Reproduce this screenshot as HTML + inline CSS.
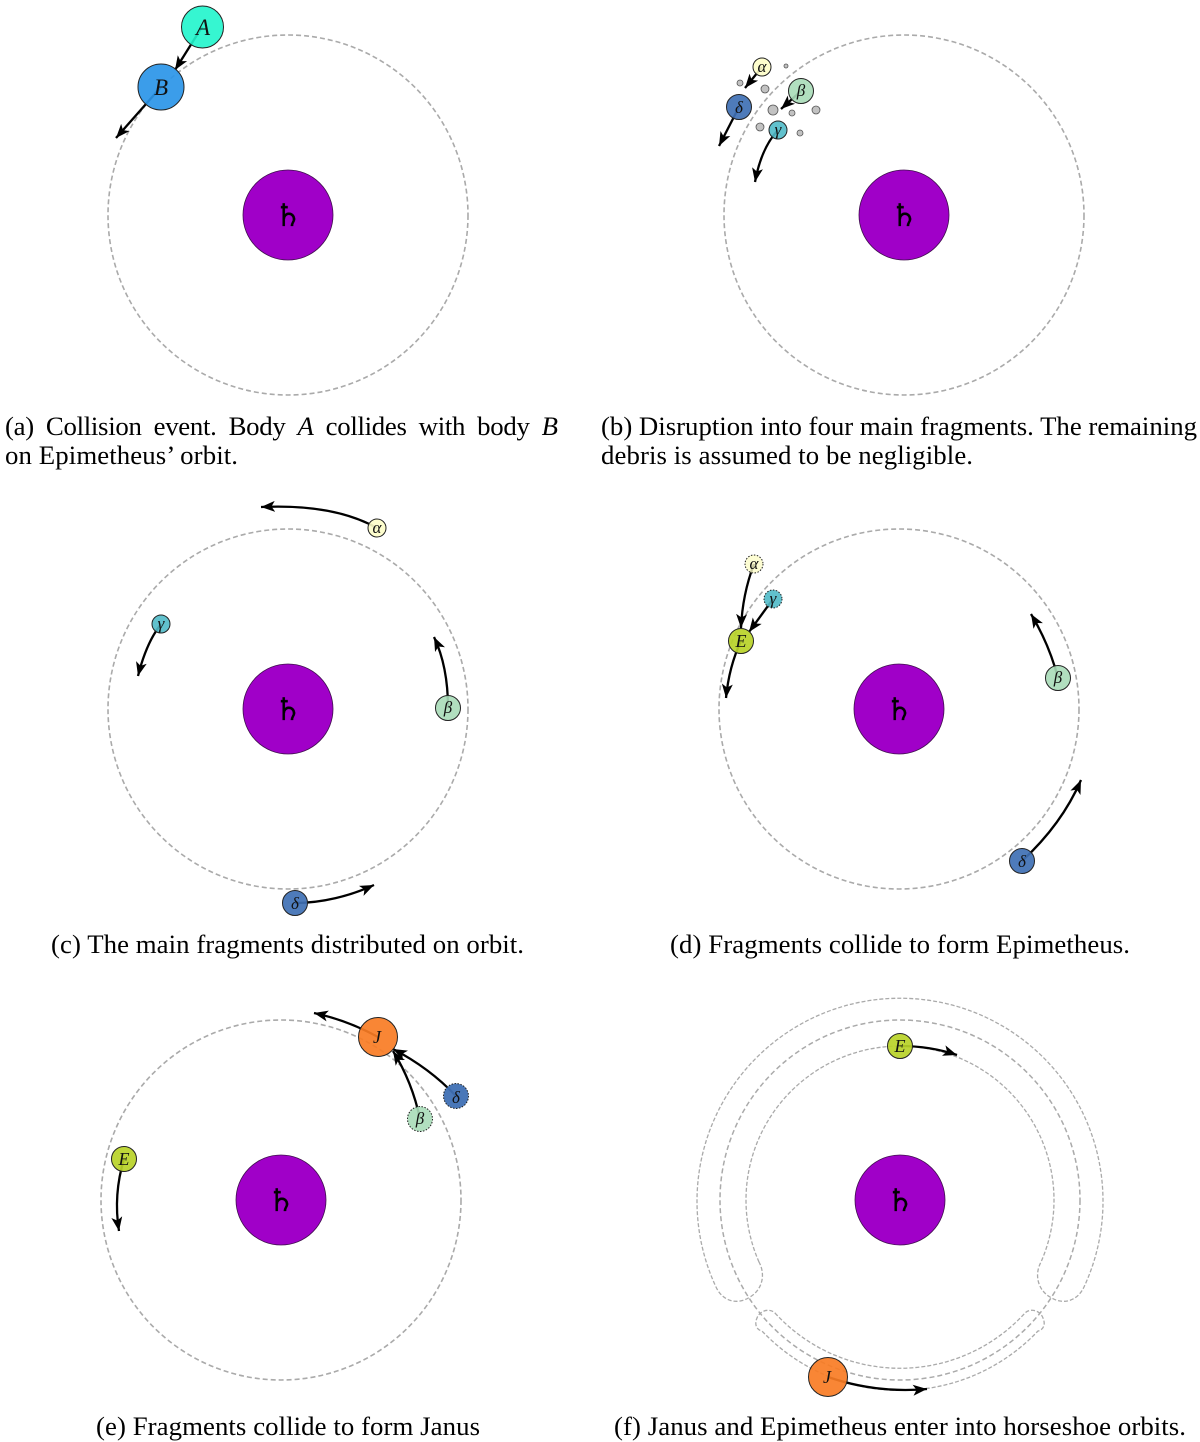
<!DOCTYPE html>
<html>
<head>
<meta charset="utf-8">
<style>
html,body{margin:0;padding:0;background:#fff}
svg{display:block}
.orb{fill:none;stroke:#aaa;stroke-width:1.6;stroke-dasharray:5 3}
.thin{fill:none;stroke:#aaa;stroke-width:1.3;stroke-dasharray:4 2}
.sat{fill:#a000c8;stroke:#40104f;stroke-width:.8}
.ar{fill:none;stroke:#000;stroke-width:2.3;marker-end:url(#h)}
.b{stroke:#222;stroke-width:1}
.dot{stroke:#222;stroke-width:1;stroke-dasharray:1.5 1.5}
.d{fill:#c2c2c2;stroke:#555;stroke-width:.8}
.cap{font-family:"Liberation Serif",serif;font-size:26.8px;fill:#000}
.m{font-family:"Liberation Serif",serif;font-style:italic;text-anchor:middle;fill:#111}
.s{font-family:"DejaVu Sans",sans-serif;font-size:31px;text-anchor:middle;fill:#000;stroke:#000;stroke-width:.3}
</style>
</head>
<body>
<svg width="1200" height="1442" viewBox="0 0 1200 1442" xmlns="http://www.w3.org/2000/svg">
<defs>
<marker id="h" markerUnits="userSpaceOnUse" markerWidth="18" markerHeight="14" refX="14" refY="7" orient="auto">
<path d="M0,1.500 L14,7 L0,12.500 L3.500,7 z" fill="#000"/>
</marker>
</defs>

<!-- a -->
<circle class="orb" cx="288" cy="215" r="180"/>
<circle class="sat" cx="288" cy="215" r="45"/>
<text class="s" x="288" y="226">♄</text>
<path class="ar" d="M202,27 L175,70"/>
<path class="ar" d="M161,87 L116,138"/>
<circle class="b" cx="202.500" cy="27" r="21" fill="#20f5cc" fill-opacity=".9"/>
<circle class="b" cx="161" cy="87" r="23" fill="#2a95e8" fill-opacity=".92"/>
<text class="m" x="203" y="35" font-size="23">A</text>
<text class="m" x="161" y="95" font-size="23">B</text>

<!-- b -->
<circle class="orb" cx="904" cy="215" r="180"/>
<circle class="sat" cx="904" cy="215" r="45"/>
<text class="s" x="904" y="226">♄</text>
<circle class="d" cx="740" cy="83" r="3"/>
<circle class="d" cx="786" cy="66" r="2"/>
<circle class="d" cx="765" cy="89" r="4"/>
<circle class="d" cx="773" cy="110" r="5"/>
<circle class="d" cx="792" cy="113" r="3"/>
<circle class="d" cx="816" cy="110" r="4"/>
<circle class="d" cx="760" cy="127" r="4"/>
<circle class="d" cx="800" cy="133" r="3"/>
<path class="ar" d="M762,67 L745,88"/>
<path class="ar" d="M801,91 L781,109"/>
<path class="ar" d="M739,107 L719,146"/>
<path class="ar" d="M778,130 C766,143 759,160 755,182"/>
<circle class="b" cx="762" cy="67" r="9" fill="#fdfdc8" fill-opacity=".9"/>
<circle class="b" cx="801" cy="91" r="12.500" fill="#a8dcb8" fill-opacity=".9"/>
<circle class="b" cx="739" cy="107" r="12.500" fill="#3f70b4" fill-opacity=".92"/>
<circle class="b" cx="778" cy="130" r="9" fill="#50bac8" fill-opacity=".9"/>
<text class="m" x="762" y="72" font-size="17">α</text>
<text class="m" x="801" y="96" font-size="17">β</text>
<text class="m" x="739" y="113" font-size="17">δ</text>
<text class="m" x="778" y="135" font-size="17">γ</text>

<!-- c -->
<circle class="orb" cx="288" cy="709" r="180"/>
<circle class="sat" cx="288" cy="709" r="45"/>
<text class="s" x="288" y="720">♄</text>
<path class="ar" d="M377,528 C345,510 305,505 261,507"/>
<path class="ar" d="M161,624 C150,638 143,656 138,676"/>
<path class="ar" d="M448,708 C448,684 444,658 434,637"/>
<path class="ar" d="M295,903 C322,903 350,896 374,885"/>
<circle class="b" cx="377" cy="528" r="9" fill="#fdfdc8" fill-opacity=".9"/>
<circle class="b" cx="161" cy="624" r="9" fill="#50bac8" fill-opacity=".9"/>
<circle class="b" cx="448" cy="708" r="12.500" fill="#a8dcb8" fill-opacity=".9"/>
<circle class="b" cx="295" cy="903" r="12.500" fill="#3f70b4" fill-opacity=".92"/>
<text class="m" x="377" y="533" font-size="17">α</text>
<text class="m" x="161" y="629" font-size="17">γ</text>
<text class="m" x="448" y="713" font-size="17">β</text>
<text class="m" x="295" y="909" font-size="17">δ</text>

<!-- d -->
<circle class="orb" cx="899" cy="709" r="180"/>
<circle class="sat" cx="899" cy="709" r="45"/>
<text class="s" x="899" y="720">♄</text>
<path class="ar" d="M754,564 C746,585 742,605 741,628"/>
<path class="ar" d="M773,599 L749,632"/>
<path class="ar" d="M741,641 C733,658 728,677 726,698"/>
<path class="ar" d="M1058,678 C1052,655 1043,634 1031,614"/>
<path class="ar" d="M1022,861 C1048,837 1068,810 1081,780"/>
<circle class="dot" cx="754" cy="564" r="9" fill="#fdfdc8" fill-opacity=".8"/>
<circle class="dot" cx="773" cy="599" r="9" fill="#50bac8" fill-opacity=".9"/>
<circle class="b" cx="741" cy="641" r="12.500" fill="#b8d228" fill-opacity=".92"/>
<circle class="b" cx="1058" cy="678" r="12.500" fill="#a8dcb8" fill-opacity=".9"/>
<circle class="b" cx="1022" cy="861" r="12.500" fill="#3f70b4" fill-opacity=".92"/>
<text class="m" x="754" y="569" font-size="17">α</text>
<text class="m" x="773" y="604" font-size="17">γ</text>
<text class="m" x="741" y="647" font-size="18">E</text>
<text class="m" x="1058" y="683" font-size="17">β</text>
<text class="m" x="1022" y="867" font-size="17">δ</text>

<!-- e -->
<circle class="orb" cx="281" cy="1200" r="180"/>
<circle class="sat" cx="281" cy="1200" r="45"/>
<text class="s" x="281" y="1211">♄</text>
<path class="ar" d="M378,1037 C358,1026 337,1018 314,1013"/>
<path class="ar" d="M456,1096 C438,1077 418,1062 393,1049"/>
<path class="ar" d="M420,1119 C415,1095 406,1072 393,1051"/>
<path class="ar" d="M124,1159 C117,1182 115,1206 119,1231"/>
<circle class="b" cx="378" cy="1037" r="19.500" fill="#f97c24" fill-opacity=".92"/>
<circle class="dot" cx="456" cy="1096" r="12.500" fill="#3f70b4" fill-opacity=".95"/>
<circle class="dot" cx="420" cy="1119" r="12.500" fill="#a8dcb8" fill-opacity=".9"/>
<circle class="b" cx="124" cy="1159" r="12.500" fill="#b8d228" fill-opacity=".92"/>
<text class="m" x="377" y="1043" font-size="18">J</text>
<text class="m" x="456" y="1103" font-size="17">δ</text>
<text class="m" x="420" y="1124" font-size="17">β</text>
<text class="m" x="124" y="1165" font-size="18">E</text>

<!-- f -->
<circle class="orb" cx="900" cy="1200" r="180" style="stroke-width:1.5"/>
<path class="thin" d="M759,1262 A154,154 0 1 1 1041,1262 C1034,1275 1038,1290 1050,1297 C1062,1305 1077,1302 1084,1287 A203,203 0 1 0 716,1287 C723,1302 738,1305 750,1297 C762,1290 766,1275 759,1262 Z"/>
<path class="thin" d="M775,1313 A169,169 0 0 0 1025,1313 C1030,1308 1040,1310 1043,1318 C1046,1325 1043,1330 1038,1331 A190,190 0 0 1 762,1331 C757,1330 754,1325 757,1318 C760,1310 770,1308 775,1313 Z"/>
<circle class="sat" cx="900" cy="1200" r="45"/>
<text class="s" x="900" y="1211">♄</text>
<path class="ar" d="M900,1046 C920,1046 939,1049 957,1055"/>
<path class="ar" d="M828,1377 C860,1388 893,1392 927,1389"/>
<circle class="b" cx="900" cy="1046" r="12.500" fill="#b8d228" fill-opacity=".92"/>
<circle class="b" cx="828" cy="1377" r="19.500" fill="#f97c24" fill-opacity=".92"/>
<text class="m" x="900" y="1052" font-size="18">E</text>
<text class="m" x="827" y="1383" font-size="18">J</text>

<!-- captions -->
<text class="cap" x="5" y="435" textLength="553" lengthAdjust="spacing" style="word-spacing:5.6px">(a) Collision event. Body <tspan font-style="italic">A</tspan> collides with body <tspan font-style="italic">B</tspan></text>
<text class="cap" x="5" y="464" textLength="233" lengthAdjust="spacing">on Epimetheus’ orbit.</text>
<text class="cap" x="601" y="435" textLength="596" lengthAdjust="spacing">(b) Disruption into four main fragments. The remaining</text>
<text class="cap" x="601" y="464" textLength="372" lengthAdjust="spacing">debris is assumed to be negligible.</text>
<text class="cap" x="51" y="953" textLength="473" lengthAdjust="spacing">(c) The main fragments distributed on orbit.</text>
<text class="cap" x="670" y="953" textLength="460" lengthAdjust="spacing">(d) Fragments collide to form Epimetheus.</text>
<text class="cap" x="96" y="1435" textLength="384" lengthAdjust="spacing">(e) Fragments collide to form Janus</text>
<text class="cap" x="614" y="1435" textLength="572" lengthAdjust="spacing">(f) Janus and Epimetheus enter into horseshoe orbits.</text>
</svg>
</body>
</html>
